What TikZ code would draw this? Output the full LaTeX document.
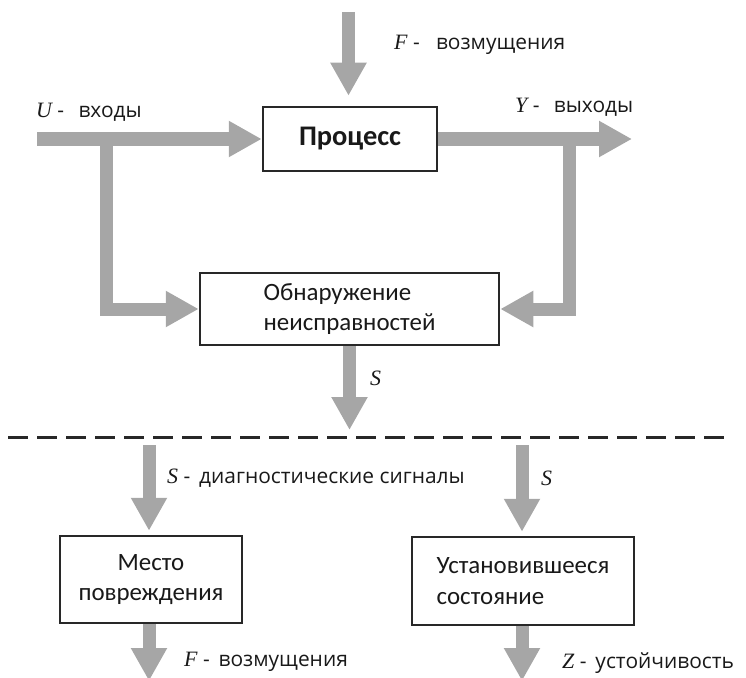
\documentclass[tikz,border=0pt]{standalone}
\usepackage{fontspec}
\setmainfont{Carlito}
\newfontfamily\labelfont{Open Sans}
\newfontfamily\varfont{Liberation Serif}
\usetikzlibrary{arrows.meta,positioning}
\definecolor{arrowgray}{RGB}{166,166,166}
\definecolor{boxline}{RGB}{40,40,40}
\newcommand{\sig}[1]{{\varfont\itshape\fontsize{22}{22}\selectfont #1}}

\begin{document}
\begin{tikzpicture}[x=1bp,y=-1bp,
    block/.style={draw=boxline, line width=2.5bp, fill=white, inner sep=0pt, text=black!90,
      font=\fontsize{25}{31}\selectfont},
    flow/.style={draw=arrowgray, line width=13bp, line join=miter,
      -{Triangle[length=33bp,width=34bp]}},
    lbl/.style={anchor=west, inner sep=0pt, text=black!90,
      font=\labelfont\fontsize{21}{22}\selectfont}]
  % Frame of the picture
  \useasboundingbox (0,0) rectangle (746,678);
  \clip (0,0) rectangle (746,678);
  % Blocks
  \node[block, minimum width=174bp, minimum height=64bp,
    font=\fontsize{28.5}{30}\selectfont\bfseries] (proc) at (350,139) {Процесс};
  \node[block, minimum width=299bp, minimum height=72bp, align=left] (detect) at (349.5,309)
    {Обнаружение\\неисправностей};
  \node[block, minimum width=182bp, minimum height=87bp, align=center] (place) at (151,579.5)
    {Место\\повреждения};
  \node[block, minimum width=222bp, minimum height=88bp, align=left] (state) at (523,581)
    {Установившееся\\состояние};
  % Free ends of the flows
  \coordinate (fin) at (348.5,12);
  \coordinate (uin) at (37,139);
  \coordinate (yout) at (632,139);
  \coordinate (ubr) at (106.5,139);
  \coordinate (ybr) at (569.5,139);
  \coordinate (sepL) at (8,437);
  \coordinate (sepR) at (729,437);
  \coordinate (sl) at (149,445);
  \coordinate (sr) at (522,445);
  \coordinate (fout) at (149,681);
  \coordinate (zout) at (522,681);
  % Upper part: process and fault detection
  \draw[flow, shorten >=10bp] (fin) -- (fin |- proc.north);
  \draw[flow] (uin) -- (proc.west);
  \draw[flow] (proc.east) -- (yout);
  \draw[flow] (ubr) |- (detect.west);
  \draw[flow] (ybr) |- (detect.east);
  \draw[flow, shorten >=7bp] (detect.south) -- (detect.south |- sepL);
  % Separator
  \draw[boxline, line width=3bp, dash pattern=on 20bp off 9bp] (sepL) -- (sepR);
  % Lower part: diagnosis
  \draw[flow, shorten >=4bp] (sl) -- (sl |- place.north);
  \draw[flow, shorten >=4bp] (sr) -- (sr |- state.north);
  \draw[flow] (fout |- place.south) -- (fout);
  \draw[flow] (zout |- state.south) -- (zout);
  % Labels
  \node[lbl] (ulbl) at (36,112) {\sig{U} -\ \ \,входы};
  \node[lbl] (flbl) at (394,45) {\sig{F} -\ \ \ возмущения};
  \node[lbl] (ylbl) at (515,107) {\sig{Y} -\ \ \,выходы};
  \node[lbl] (slbl) at (370,378) {\sig{S}};
  \node[lbl] (dlbl) at (167,478) {\sig{S} -\ \,диагностические сигналы};
  \node[lbl] (srlbl) at (541,478) {\sig{S}};
  \node[lbl] (f2lbl) at (184,662) {\sig{F} -\ \,возмущения};
  \node[lbl] (zlbl) at (562,663) {\sig{Z} -\ \,устойчивость};
\end{tikzpicture}
\end{document}
